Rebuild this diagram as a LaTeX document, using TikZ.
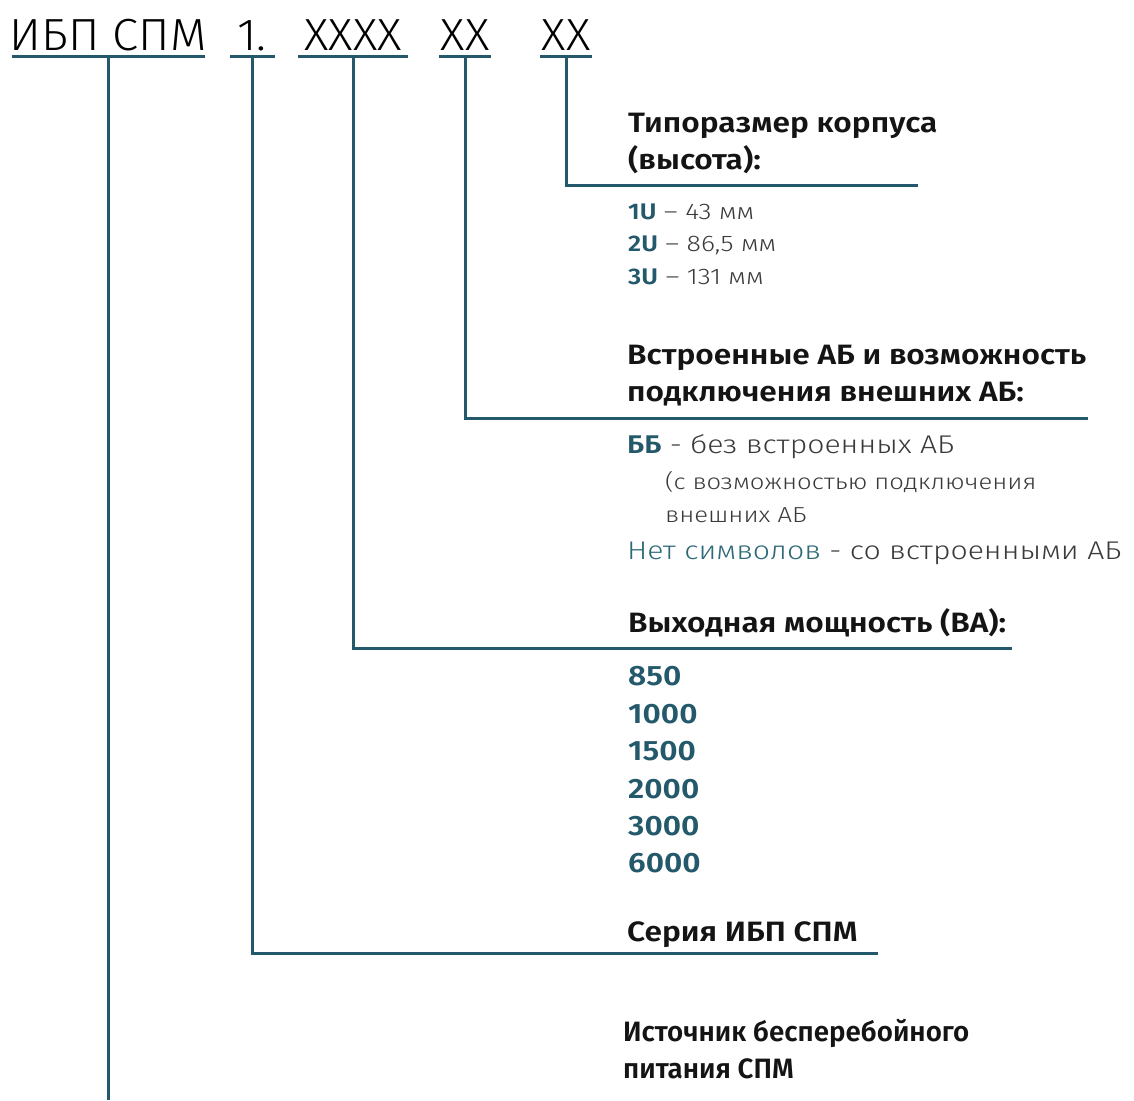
\documentclass[tikz,border=0pt]{standalone}
\usepackage{fontspec}
\setmainfont{Fira Sans}
\newfontfamily\firab{Fira Sans}[FakeStretch=1.13]
\newfontfamily\firabn{Fira Sans}[FakeStretch=1.0]
\IfFontExistsTF{Fira Sans SemiBold}
  {\newfontfamily\headf{Fira Sans SemiBold}[FakeStretch=1.13]
   \newfontfamily\headn{Fira Sans SemiBold}[FakeStretch=0.99]}
  {\newcommand\headf{\firab\bfseries}\newcommand\headn{\firabn\bfseries}}
\IfFontExistsTF{Fira Sans Light}
  {\newfontfamily\lightf{Fira Sans Light}[FakeStretch=1.18]
   \newfontfamily\topf{Fira Sans Light}[FakeStretch=1.05]}
  {\newfontfamily\lightf{Fira Sans}[FakeStretch=1.18]
   \newfontfamily\topf{Fira Sans}[FakeStretch=1.03]}
\definecolor{tealc}{HTML}{23596A}
\definecolor{teallt}{HTML}{2F6A78}
\definecolor{descc}{HTML}{3A3A3A}
\begin{document}
\begin{tikzpicture}[x=1pt,y=-1pt,
  lnk/.style={draw=tealc, line width=3pt},
  topt/.style={anchor=base, inner sep=0pt, font=\topf\fontsize{45}{54}\selectfont, text=black},
  head/.style={anchor=base west, inner sep=0pt, font=\headf\fontsize{28}{34}\selectfont, text=black!92},
  headc/.style={anchor=base west, inner sep=0pt, font=\headn\fontsize{28}{34}\selectfont, text=black!92},
  val/.style={anchor=base west, inner sep=0pt, font=\headf\fontsize{28}{34}\selectfont, text=tealc},
  desc/.style={anchor=base west, inner sep=0pt, font=\lightf\fontsize{22.6}{26}\selectfont, text=descc},
  descb/.style={anchor=base west, inner sep=0pt, font=\lightf\fontsize{25.6}{30}\selectfont, text=descc},
  descs/.style={anchor=base west, inner sep=0pt, font=\lightf\fontsize{21.7}{26}\selectfont, text=descc}]
\useasboundingbox (0,0) rectangle (1134,1100);
% top code
\node[topt] (t1) at (108,50) {ИБП СПМ};
\node[topt] (t2) at (252,50) {1.};
\node[topt] (t3) at (353,50) {XXXX};
\node[topt] (t4) at (465,50) {XX};
\node[topt] (t5) at (566,50) {XX};
% underlines
\draw[lnk] (12,56) -- (205,56);
\draw[lnk] (230,56) -- (275,56);
\draw[lnk] (298,56) -- (408,56);
\draw[lnk] (439,56) -- (491,56);
\draw[lnk] (540,56) -- (592,56);
% connector ends
\coordinate (v1) at (108,56); \coordinate (e1) at (108,1100);
\coordinate (v2) at (252,56); \coordinate (e2) at (878,953);
\coordinate (v3) at (353,56); \coordinate (e3) at (1012,648);
\coordinate (v4) at (465,56); \coordinate (e4) at (1088,418);
\coordinate (v5) at (566,56); \coordinate (e5) at (918,185);
\draw[lnk] (v1) -- (e1);
\draw[lnk] (v2) |- (e2);
\draw[lnk] (v3) |- (e3);
\draw[lnk] (v4) |- (e4);
\draw[lnk] (v5) |- (e5);
% block 5
\node[head] (h5a) at (628,132) {Типоразмер корпуса};
\node[head] (h5b) at (628,169) {(высота):};
\node[desc] (d5a) at (628,219) {{\headf\color{tealc}1U} – 43 мм};
\node[desc] (d5b) at (628,251) {{\headf\color{tealc}2U} – 86,5 мм};
\node[desc] (d5c) at (628,284) {{\headf\color{tealc}3U} – 131 мм};
% block 4
\node[head] (h4a) at (627,364) {Встроенные АБ и возможность};
\node[head] (h4b) at (627,401) {подключения внешних АБ:};
\node[descb] (d4a) at (627,453) {{\headf\color{tealc}ББ} - без встроенных АБ};
\node[descs] (d4b) at (665,489) {(с возможностью подключения};
\node[descs] (d4c) at (665,522) {внешних АБ};
\node[descb] (d4d) at (627,559) {{\color{teallt}Нет символов} - со встроенными АБ};
% block 3
\node[head] (h3) at (628,632) {Выходная мощность (ВА):};
\node[val] (n1) at (628,685) {850};
\node[val] (n2) at (628,723) {1000};
\node[val] (n3) at (628,760) {1500};
\node[val] (n4) at (628,798) {2000};
\node[val] (n5) at (628,835) {3000};
\node[val] (n6) at (628,872) {6000};
% block 2
\node[head] (h2) at (627,941) {Серия ИБП СПМ};
% block 1
\node[headc] (h1a) at (623,1041) {Источник бесперебойного};
\node[headc] (h1b) at (623,1078) {питания СПМ};
\end{tikzpicture}
\end{document}
